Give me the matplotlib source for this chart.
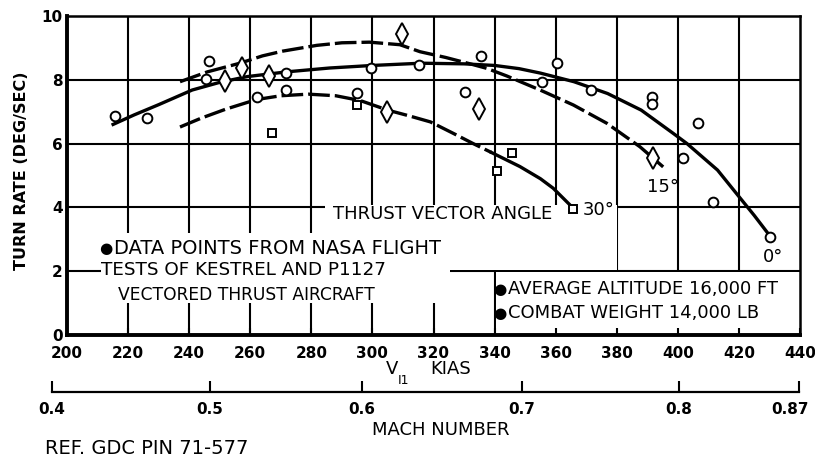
import matplotlib
matplotlib.use("Agg")
import matplotlib.pyplot as plt
from matplotlib.patches import Rectangle
from matplotlib.transforms import ScaledTranslation

# axes scales
kias_ticks = [200, 220, 240, 260, 280, 300, 320, 340, 360, 380, 400, 420, 440]
rate_ticks = [0, 2, 4, 6, 8, 10]
mach_labels = ["0.4", "0.5", "0.6", "0.7", "0.8", "0.87"]
mach_at_kias = [195.1, 246.8, 296.6, 349.0, 400.4, 439.7]

# faired curves, thrust vector angle 0 / 15 / 30 deg
curve0_x = [214.6, 222, 230, 241, 250, 259, 272, 286, 300, 316, 330, 340, 348, 355,
            366, 377, 388, 398.5, 403, 413, 420, 425, 430.2]
curve0_y = [6.58, 6.9, 7.22, 7.68, 7.92, 8.1, 8.25, 8.37, 8.45, 8.52, 8.5, 8.45, 8.35, 8.21,
            7.94, 7.57, 7.05, 6.32, 6.0, 5.17, 4.34, 3.75, 3.1]
curve15_x = [237, 246, 256.6, 264, 270.7, 281.8, 290, 299, 309, 315.6, 324, 332, 337.4, 344,
             354.9, 365.8, 376.7, 387.6, 395.2]
curve15_y = [7.94, 8.25, 8.52, 8.75, 8.9, 9.08, 9.16, 9.18, 9.1, 8.88, 8.7, 8.5, 8.36, 8.12,
             7.68, 7.21, 6.64, 5.9, 5.27]
curve30_x = [237, 244, 252, 262, 270, 279, 288, 296, 305, 312, 319, 326.5, 333, 339,
             348.3, 355, 359.2, 365.7]
curve30_y = [6.52, 6.8, 7.08, 7.38, 7.5, 7.55, 7.5, 7.35, 7.05, 6.87, 6.68, 6.32, 6.0, 5.72,
             5.28, 4.9, 4.6, 3.98]
curve30_solid_from = 339

# flight test points
circle_x = [215.7, 226.2, 246.5, 245.5, 262.2, 271.7, 271.7, 295.0, 299.5, 315.3, 330.3,
            335.4, 355.5, 360.4, 371.6, 391.6, 391.6, 401.7, 406.5, 411.5, 430.2]
circle_y = [6.87, 6.80, 8.59, 8.01, 7.46, 8.21, 7.68, 7.58, 8.36, 8.46, 7.62,
            8.74, 7.93, 8.53, 7.68, 7.46, 7.25, 5.55, 6.65, 4.17, 3.07]
diamond_x = [251.6, 257.3, 266.1, 304.8, 309.7, 334.9, 391.9]
diamond_y = [7.95, 8.37, 8.13, 7.0, 9.45, 7.09, 5.55]
square_x = [267.1, 295.0, 340.8, 345.7, 365.7]
square_y = [6.33, 7.21, 5.14, 5.71, 3.95]

W, H = 815, 458


def px(x, y):
    return x / W, 1 - y / H


plt.rcParams["font.family"] = ["DejaVu Sans"]
fig = plt.figure(figsize=(W / 100, H / 100), dpi=100)
ax = fig.add_axes([67 / W, 1 - 335 / H, 733 / W, 319 / H])
ax.set_xlim(200, 440)
ax.set_ylim(0, 10)

# grid (drawn by hand so white boxes can hide parts of it)
for v in kias_ticks[1:-1]:
    ax.axvline(v, color="black", lw=1.5, zorder=1)
for r in rate_ticks[1:-1]:
    ax.axhline(r, color="black", lw=1.5, zorder=1)

# blank areas behind the notes
ax.add_patch(Rectangle((211.1, 1.0), 114.3, 2.2, facecolor="white", edgecolor="none", zorder=1.5))
ax.add_patch(Rectangle((284.5, 2.04), 95.6, 2.03, facecolor="white", edgecolor="none", zorder=1.5))
ax.add_patch(Rectangle((340.35, 0), 99.65, 1.965, facecolor="white", edgecolor="none", zorder=1.5))

# curves
lw = 2.4
ax.plot(curve0_x, curve0_y, color="black", lw=lw, zorder=3, solid_capstyle="butt")
ax.plot(curve15_x, curve15_y, color="black", lw=lw, zorder=3, dashes=(6.5, 1.5))
dash30 = [i for i, v in enumerate(curve30_x) if v <= curve30_solid_from]
solid30 = [i for i, v in enumerate(curve30_x) if v >= curve30_solid_from]
ax.plot([curve30_x[i] for i in dash30], [curve30_y[i] for i in dash30],
        color="black", lw=lw, zorder=3, dashes=(6.5, 1.5))
ax.plot([curve30_x[i] for i in solid30], [curve30_y[i] for i in solid30],
        color="black", lw=lw, zorder=3)

mk = dict(linestyle="none", markerfacecolor="white", markeredgecolor="black",
          markeredgewidth=1.4, zorder=4)
ax.plot(circle_x, circle_y, marker="o", markersize=7, **mk)
ax.plot(diamond_x, diamond_y, marker="d", markersize=11, **mk)
ax.plot(square_x, square_y, marker="s", markersize=5.5, **mk)

ax.set_xticks(kias_ticks)
ax.set_yticks(rate_ticks)
ax.tick_params(axis="x", direction="in", length=5, width=1.5, pad=8, labelsize=11)
ax.tick_params(axis="y", direction="in", length=0, pad=3, labelsize=11)
for lab in ax.get_xticklabels() + ax.get_yticklabels():
    lab.set_fontweight("bold")
for s in ["left", "bottom"]:
    ax.spines[s].set_linewidth(2.8)
for s in ["top", "right"]:
    ax.spines[s].set_linewidth(1.8)

# mach number scale
ax2 = fig.add_axes([52 / W, 1 - 392 / H, 748 / W, 0.0001])
ax2.set_xlim(195.1, 440)
ax2.set_xticks(mach_at_kias, mach_labels)
ax2.set_yticks([])
for s in ["left", "right", "top"]:
    ax2.spines[s].set_visible(False)
ax2.spines["bottom"].set_linewidth(1.6)
ax2.spines["bottom"].set_bounds(195.1, 439.7)
ax2.tick_params(axis="x", direction="in", length=8, width=1.5, pad=7, labelsize=11)
mach_ticklabels = ax2.get_xticklabels()
for lab in mach_ticklabels:
    lab.set_fontweight("bold")
last = mach_ticklabels[-1]
last.set_transform(last.get_transform() + ScaledTranslation(-0.09, 0, fig.dpi_scale_trans))
ax2.patch.set_visible(False)

# labels and notes
fs = 13
fig.text(*px(22, 171), "TURN RATE (DEG/SEC)", rotation=90, ha="center", va="center",
         fontsize=11.5, fontweight="bold")
fig.text(*px(386, 369), "V", ha="left", va="center", fontsize=fs)
fig.text(*px(398, 381), "I1", ha="left", va="center", fontsize=9)
fig.text(*px(430, 369), "KIAS", ha="left", va="center", fontsize=fs)
fig.text(*px(441, 430), "MACH NUMBER", ha="center", va="center", fontsize=fs)
fig.text(*px(45, 448), "REF. GDC PIN 71-577", ha="left", va="center", fontsize=14)

bullet = dict(ha="left", va="center", fontsize=11)
fig.text(*px(99, 248.5), "\u25cf", **bullet)
fig.text(*px(114, 248), "DATA POINTS FROM NASA FLIGHT", ha="left", va="center", fontsize=14)
fig.text(*px(101, 270), "TESTS OF KESTREL AND P1127", ha="left", va="center", fontsize=13.2)
fig.text(*px(118, 295), "VECTORED THRUST AIRCRAFT", ha="left", va="center", fontsize=12.3)
fig.text(*px(333, 214), "THRUST VECTOR ANGLE", ha="left", va="center", fontsize=fs)
fig.text(*px(583, 210), "30\u00b0", ha="left", va="center", fontsize=fs)
fig.text(*px(647, 187), "15\u00b0", ha="left", va="center", fontsize=fs)
fig.text(*px(763, 257), "0\u00b0", ha="left", va="center", fontsize=fs)
fig.text(*px(493, 289.5), "\u25cf", **bullet)
fig.text(*px(508, 289), "AVERAGE ALTITUDE 16,000 FT", ha="left", va="center", fontsize=fs)
fig.text(*px(493, 313.5), "\u25cf", **bullet)
fig.text(*px(508, 313), "COMBAT WEIGHT 14,000 LB", ha="left", va="center", fontsize=fs)

fig.savefig("out.png", dpi=100)
